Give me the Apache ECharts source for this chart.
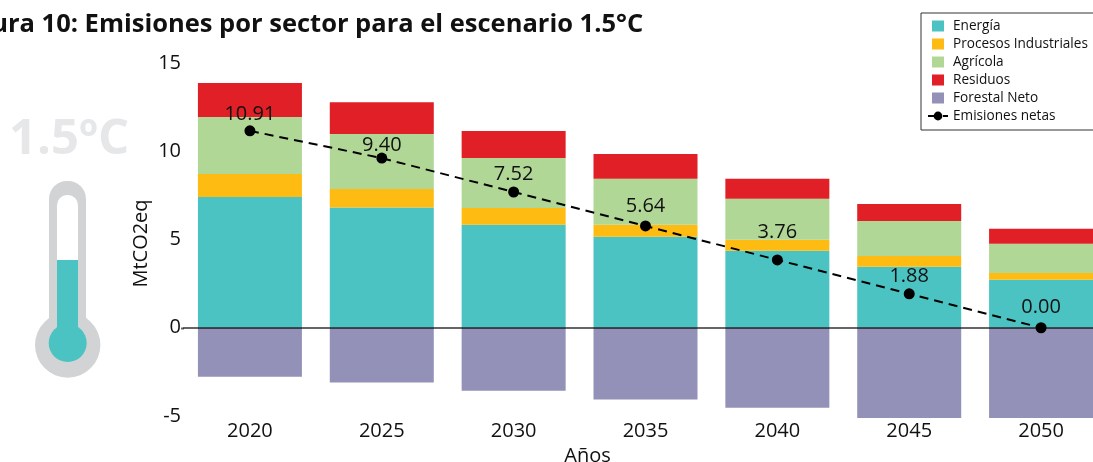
<!DOCTYPE html>
<html><head><meta charset="utf-8">
<style>html,body{margin:0;padding:0;background:#fff}#c{width:1093px;height:462px}</style>
<script src="https://cdn.jsdelivr.net/npm/echarts@6/dist/echarts.min.js"></script>
</head><body><div id="c"></div>
<script>
const years = ['2020','2025','2030','2035','2040','2045','2050'];
const energia = [7.25,6.66,5.70,5.04,4.26,3.38,2.66];
const procesos = [1.27,1.03,0.94,0.66,0.61,0.60,0.38];
const agricola = [3.16,3.05,2.77,2.55,2.27,1.94,1.61];
const residuos = [1.88,1.76,1.49,1.38,1.11,0.94,0.83];
const forestal = [-2.71,-3.04,-3.49,-3.98,-4.43,-5.00,-5.00];
const netas = [10.91,9.40,7.52,5.64,3.76,1.88,0.00];
const labelGaps = [1,-3,2,4,12,2,5];
const yTicks = [-5,0,5,10,15];
const FONT = '"Open Sans"';
const INK = '#111';
const swatch = 'path://M0,5.5h0.01v0.01h-0.01z M4,0h12v11h-12z M20,5.5h0.01v0.01h-0.01z';
const bar = (name,data,color)=>({name,type:'bar',stack:'s',data,barWidth:104,itemStyle:{color},xAxisIndex:0,yAxisIndex:0,z:2});
const chart = echarts.init(document.getElementById('c'),null,{renderer:'canvas'});
chart.setOption({
  animation:false,
  textStyle:{fontFamily:FONT,color:INK},
  title:{text:'Figura 10: Emisiones por sector para el escenario 1.5°C',left:-50,top:7,
    textStyle:{fontFamily:FONT,fontSize:25.5,fontWeight:'bold',color:INK}},
  legend:{left:921,top:13,orient:'vertical',padding:[6,6,7,6],itemGap:4,itemWidth:20,itemHeight:11,
    borderColor:'#333',borderWidth:1,backgroundColor:'#fff',
    textStyle:{fontFamily:FONT,fontSize:13.6,color:INK},
    data:[
      {name:'Energía',icon:swatch},{name:'Procesos Industriales',icon:swatch},{name:'Agrícola',icon:swatch},
      {name:'Residuos',icon:swatch},{name:'Forestal Neto',icon:swatch},{name:'Emisiones netas'}]},
  grid:[
    {left:184,width:923,top:57,height:361,outerBoundsMode:'none'},
    {left:184,width:923,top:63,height:353,outerBoundsMode:'none'}
  ],
  xAxis:[
    {gridIndex:0,type:'category',data:years,z:6,axisLine:{onZero:true,lineStyle:{color:'rgba(0,0,0,0.6)',width:2}},axisTick:{show:false},axisLabel:{show:false}},
    {gridIndex:1,type:'category',data:years,position:'bottom',axisLine:{show:false},axisTick:{show:false},
      axisLabel:{fontSize:20,margin:5,color:INK},
      name:'Años',nameLocation:'middle',nameGap:28,nameTextStyle:{fontSize:20,color:INK,padding:[0,116,0,0]}}
  ],
  yAxis:[
    {gridIndex:0,type:'value',min:-5,max:15,interval:5,axisLine:{show:false},axisTick:{show:false},axisLabel:{show:false},splitLine:{show:false}},
    {gridIndex:1,type:'value',min:yTicks[0],max:yTicks[4],interval:5,axisLine:{show:false},axisTick:{show:false},
      axisLabel:{fontSize:20,margin:3,color:INK},splitLine:{show:false},
      name:'MtCO2eq',nameLocation:'middle',nameGap:33,nameMoveOverlap:false,nameTextStyle:{fontSize:20,color:INK,padding:[0,8,0,0]}}
  ],
  series:[
    bar('Energía',energia,'#4bc3c2'),
    bar('Procesos Industriales',procesos,'#febb12'),
    bar('Agrícola',agricola,'#b1d796'),
    bar('Residuos',residuos,'#e01f26'),
    bar('Forestal Neto',forestal,'#9391b7'),
    {name:'Emisiones netas',type:'line',data:netas.map((v,i)=>({value:v,label:{distance:labelGaps[i]}})),xAxisIndex:0,yAxisIndex:0,z:5,symbol:'circle',symbolSize:11,
      lineStyle:{color:'#000',width:2,type:[9,6]},itemStyle:{color:'#000'},
      label:{show:true,position:'top',fontSize:20,color:INK,formatter:p=>p.value.toFixed(2)}},
    {type:'line',data:[],xAxisIndex:1,yAxisIndex:1,silent:true}
  ],
  graphic:[
    {type:'line',shape:{x1:181,y1:328.5,x2:184,y2:328.5},style:{stroke:'rgba(0,0,0,0.6)',lineWidth:2}},
    {type:'text',left:9,top:116,style:{text:'1.5ºC',fontFamily:FONT,fontSize:49,fontWeight:'bold',fill:'#e6e7e8'}},
    {type:'rect',shape:{x:49,y:181,width:37,height:160,r:[18,18,0,0]},style:{fill:'#d1d3d4'}},
    {type:'circle',shape:{cx:67.7,cy:345,r:32.7},style:{fill:'#d1d3d4'}},
    {type:'rect',shape:{x:57,y:195,width:21,height:70,r:[10,10,0,0]},style:{fill:'#fff'}},
    {type:'rect',shape:{x:57,y:260,width:21,height:80},style:{fill:'#4bc3c2'}},
    {type:'circle',shape:{cx:67.7,cy:343,r:19},style:{fill:'#4bc3c2'}}
  ]
});
</script></body></html>
